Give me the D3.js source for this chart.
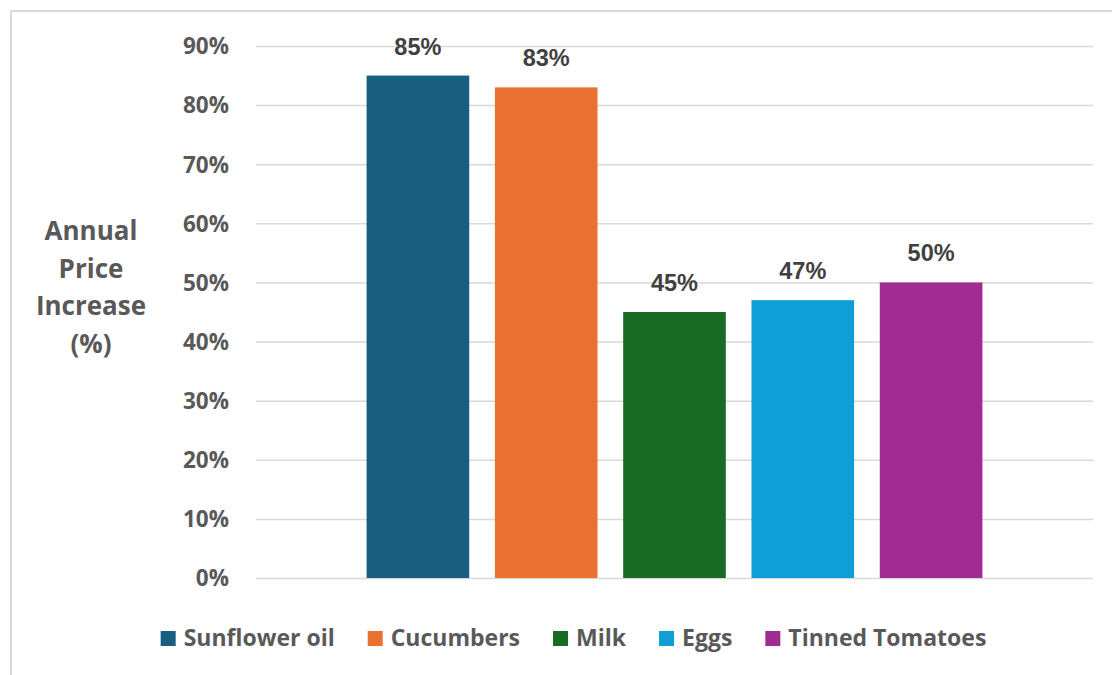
<!DOCTYPE html>
<html>
<head>
<meta charset="utf-8">
<script src="https://cdn.jsdelivr.net/npm/d3@7"></script>
<style>
  html, body { margin: 0; padding: 0; background: #fff; }
  svg { display: block; }
</style>
</head>
<body>
<svg id="chart" width="1112" height="675"></svg>
<script>
const categories = ["Annual Price Increase"];
const seriesNames = ["Sunflower oil", "Cucumbers", "Milk", "Eggs", "Tinned Tomatoes"];
const seriesValues = [0.85, 0.83, 0.45, 0.47, 0.50];
const seriesColors = ["#175e80", "#e97132", "#196b24", "#0f9ed5", "#a02b93"];
const yTicks = [0, 0.1, 0.2, 0.3, 0.4, 0.5, 0.6, 0.7, 0.8, 0.9];
const yTitleLines = ["Annual", "Price", "Increase", "(%)"];

const svg = d3.select("#chart");
const W = 1112, H = 675;
const plot = { left: 256, right: 1093, top: 46, bottom: 578 };
const uiFont = "'Open Sans', Lato, sans-serif";
const labelFont = "'Liberation Sans', Arial, sans-serif";

// frame
svg.append("rect")
  .attr("x", 11).attr("y", 11)
  .attr("width", W + 20).attr("height", H + 20)
  .attr("fill", "#fff").attr("stroke", "#d9d9d9").attr("stroke-width", 2);

const y = d3.scaleLinear().domain([0, 0.9]).range([plot.bottom, plot.top]);
const x0 = d3.scaleBand().domain(categories).range([plot.left, plot.right])
  .paddingInner(0).paddingOuter(0.1524);
const x1 = d3.scaleBand().domain(seriesNames).range([0, x0.bandwidth()])
  .paddingInner(0.2).paddingOuter(0.1);

// gridlines
const yAxis = d3.axisLeft(y).tickValues(yTicks).tickFormat(d3.format(".0%"))
  .tickSize(-(plot.right - plot.left)).tickPadding(27);
const gAxis = svg.append("g").attr("transform", `translate(${plot.left},0)`).call(yAxis);
gAxis.select(".domain").remove();
gAxis.selectAll(".tick line").attr("stroke", "#d9d9d9").attr("stroke-width", 1.5);
gAxis.selectAll(".tick text")
  .attr("fill", "#595959").attr("font-family", uiFont).attr("font-weight", 700)
  .attr("font-size", 22.5).attr("dy", "0.35em");

// bars
const data = seriesNames.map((n, i) => ({ name: n, value: seriesValues[i], color: seriesColors[i] }));
const g = svg.append("g").attr("transform", `translate(${x0(categories[0])},0)`);
g.selectAll("rect.bar").data(data).join("rect")
  .attr("class", "bar")
  .attr("x", d => x1(d.name))
  .attr("y", d => y(d.value))
  .attr("width", x1.bandwidth())
  .attr("height", d => y(0) - y(d.value))
  .attr("fill", d => d.color);

g.selectAll("text.lbl").data(data).join("text")
  .attr("class", "lbl")
  .attr("x", d => x1(d.name) + x1.bandwidth() / 2)
  .attr("y", d => y(d.value) - 21)
  .attr("text-anchor", "middle")
  .attr("fill", "#404040").attr("font-family", labelFont).attr("font-weight", 700)
  .attr("font-size", 23.5)
  .text(d => d3.format(".0%")(d.value));

// y title
const yt = svg.append("text").attr("text-anchor", "middle")
  .attr("fill", "#595959").attr("font-family", uiFont).attr("font-weight", 700)
  .attr("font-size", 26);
yTitleLines.forEach((t, i) => {
  yt.append("tspan").attr("x", 91).attr("y", 240 + i * 37.5).text(t);
});

// legend
const lg = svg.append("g");
const items = lg.selectAll("g.item").data(data).join("g").attr("class", "item");
items.append("rect").attr("width", 15).attr("height", 15).attr("y", -15)
  .attr("fill", d => d.color);
items.append("text").attr("x", 23).attr("y", 0)
  .attr("fill", "#595959").attr("font-family", uiFont).attr("font-weight", 700)
  .attr("font-size", 23).text(d => d.name);
let cx = 0;
const gap = 33;
items.each(function() {
  const t = d3.select(this).select("text").node().getComputedTextLength();
  d3.select(this).attr("transform", `translate(${cx},0)`);
  cx += 23 + t + gap;
});
const total = cx - gap;
const legendCenter = (161 + 986) / 2;
lg.attr("transform", `translate(${legendCenter - total / 2},646)`);
</script>
</body>
</html>
